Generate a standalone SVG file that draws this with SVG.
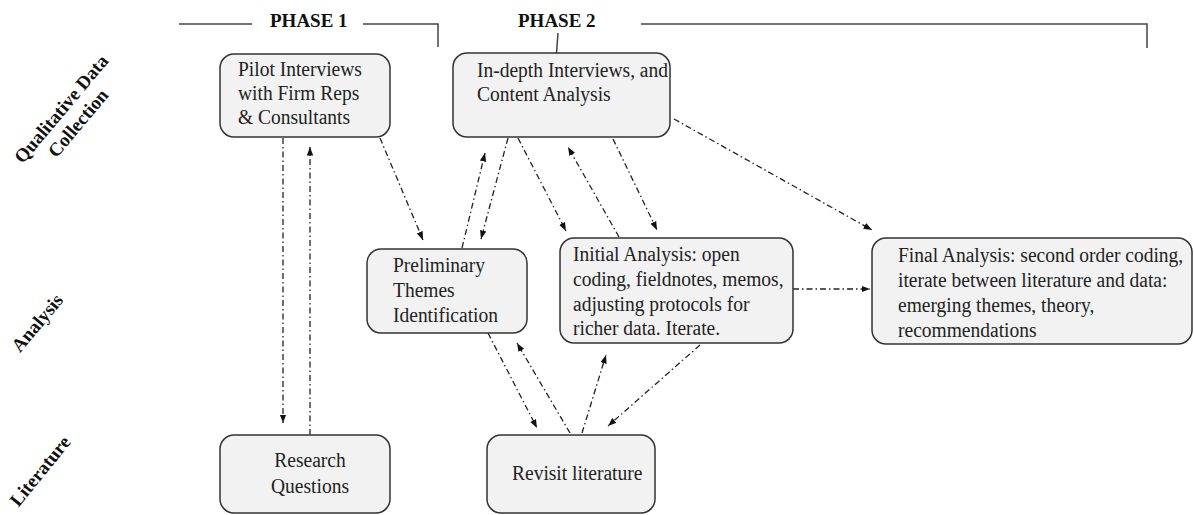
<svg xmlns="http://www.w3.org/2000/svg" width="1194" height="515" viewBox="0 0 1194 515">
<style>
.box{fill:#f2f2f2;stroke:#333;stroke-width:1.5}
.t{font-family:"Liberation Serif","Times New Roman",serif;font-size:19.5px;fill:#222}
.h{font-family:"Liberation Serif","Times New Roman",serif;font-size:19px;font-weight:bold;fill:#111}
.ph{fill:none;stroke:#444;stroke-width:1.5}
.c{fill:none;stroke:#222;stroke-width:1.3;stroke-dasharray:6 3 1.5 3;marker-end:url(#ah)}
</style>
<defs>
<marker id="ah" viewBox="0 0 10 10" refX="10" refY="5" markerWidth="8.5" markerHeight="8.5" orient="auto" markerUnits="userSpaceOnUse">
<path d="M0,1.2 L10,5 L0,8.8 z" fill="#111"/>
</marker>
</defs>
<rect width="1194" height="515" fill="#fff"/>

<g id="phases">
<path class="ph" d="M179,24 H252 M363,24 H438 V47"/>
<text class="h" x="270" y="27">PHASE 1</text>
<text class="h" x="518" y="27">PHASE 2</text>
<path class="ph" d="M641,24 H1147 V48 M558,33 L556.5,53"/>
</g>

<g id="row-labels">
<g transform="translate(66,113) rotate(-50)"><text class="h" text-anchor="middle" x="0" y="0">Qualitative Data</text><text class="h" text-anchor="middle" x="0" y="22">Collection</text></g>
<g transform="translate(42,327) rotate(-50)"><text class="h" text-anchor="middle" x="0" y="0">Analysis</text></g>
<g transform="translate(45,475) rotate(-51)"><text class="h" text-anchor="middle" x="0" y="0">Literature</text></g>
</g>

<g id="connectors">
<path class="c" d="M283,138 L283,423"/>
<path class="c" d="M310,435 L310,147"/>
<path class="c" d="M380,138 L423,240"/>
<path class="c" d="M462,248 L485,153"/>
<path class="c" d="M508,138 L481,239"/>
<path class="c" d="M518,138 L566,231"/>
<path class="c" d="M619,237 L568,147"/>
<path class="c" d="M613,139 L657,230"/>
<path class="c" d="M674,119 L872,230"/>
<path class="c" d="M793,289 L870,289"/>
<path class="c" d="M488,333 L537,428"/>
<path class="c" d="M570,433 L517,343"/>
<path class="c" d="M582,433 L606,355"/>
<path class="c" d="M700,345 L608,426"/>
</g>

<g id="pilot">
<rect class="box" x="220" y="54" width="170" height="83" rx="14"/>
<text class="t" x="238" y="0" transform="translate(0,76) scale(1,1.08)">Pilot Interviews</text>
<text class="t" x="238" y="0" transform="translate(0,100) scale(1,1.08)">with Firm Reps</text>
<text class="t" x="238" y="0" transform="translate(0,124) scale(1,1.08)">&amp; Consultants</text>
</g>

<g id="indepth">
<rect class="box" x="453" y="53" width="217" height="84" rx="14"/>
<text class="t" x="477" y="0" transform="translate(0,77) scale(1,1.08)">In-depth Interviews, and</text>
<text class="t" x="477" y="0" transform="translate(0,101) scale(1,1.08)">Content Analysis</text>
</g>

<g id="preliminary">
<rect class="box" x="367" y="249" width="160" height="84" rx="14"/>
<text class="t" x="393" y="0" transform="translate(0,272) scale(1,1.08)">Preliminary</text>
<text class="t" x="393" y="0" transform="translate(0,297) scale(1,1.08)">Themes</text>
<text class="t" x="393" y="0" transform="translate(0,322) scale(1,1.08)">Identification</text>
</g>

<g id="initial">
<rect class="box" x="560" y="238" width="233" height="105" rx="14"/>
<text class="t" x="573" y="0" transform="translate(0,261) scale(1,1.08)">Initial Analysis: open</text>
<text class="t" x="573" y="0" transform="translate(0,286) scale(1,1.08)">coding, fieldnotes, memos,</text>
<text class="t" x="573" y="0" transform="translate(0,311) scale(1,1.08)">adjusting protocols for</text>
<text class="t" x="573" y="0" transform="translate(0,335) scale(1,1.08)">richer data. Iterate.</text>
</g>

<g id="final">
<rect class="box" x="872" y="238" width="320" height="106" rx="14"/>
<text class="t" x="898" y="0" transform="translate(0,262) scale(1,1.08)">Final Analysis: second order coding,</text>
<text class="t" x="898" y="0" transform="translate(0,287) scale(1,1.08)">iterate between literature and data:</text>
<text class="t" x="898" y="0" transform="translate(0,312) scale(1,1.08)">emerging themes, theory,</text>
<text class="t" x="898" y="0" transform="translate(0,337) scale(1,1.08)">recommendations</text>
</g>

<g id="research">
<rect class="box" x="220" y="435" width="170" height="78" rx="14"/>
<text class="t" x="310" y="0" text-anchor="middle" transform="translate(0,467) scale(1,1.08)">Research</text>
<text class="t" x="310" y="0" text-anchor="middle" transform="translate(0,493) scale(1,1.08)">Questions</text>
</g>

<g id="revisit">
<rect class="box" x="487" y="435" width="168" height="78" rx="14"/>
<text class="t" x="512" y="0" transform="translate(0,480) scale(1,1.08)">Revisit literature</text>
</g>
</svg>
